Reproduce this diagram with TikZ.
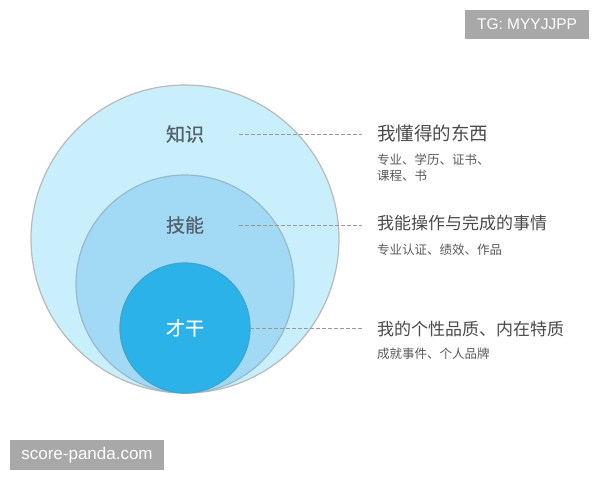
\documentclass[tikz,border=0pt]{standalone}
\usepackage{fontspec}
\newfontfamily\cjk{Noto Sans CJK SC}
\newfontfamily\cjkm[FakeBold=0.5]{Noto Sans CJK SC}
\newfontfamily\wm{Liberation Sans}
\definecolor{outerc}{HTML}{C8EFFB}
\definecolor{midc}{HTML}{A2DAF6}
\definecolor{innerc}{HTML}{2BB2E8}
\definecolor{lbl}{HTML}{56606A}
\definecolor{txt}{HTML}{4A4A4A}
\definecolor{subtxt}{HTML}{5A5A5A}
\definecolor{wmbox}{HTML}{A8A8A8}
\begin{document}
\begin{tikzpicture}[x=1pt,y=-1pt,
  ring/.style={circle,inner sep=0pt,draw=#1,line width=1.2pt},
  lab/.style={font=\cjkm\fontsize{19}{22}\selectfont,text=lbl,inner sep=0pt},
  head/.style={font=\cjk\fontsize{#1}{20}\selectfont,text=txt,inner sep=0pt,anchor=west},
  sub/.style={font=\cjk\fontsize{12.5}{16.5}\selectfont,text=subtxt,inner sep=0pt,anchor=west,align=left},
  conn/.style={draw=gray!80,line width=0.7pt,dash pattern=on 3.5pt off 2.5pt},
  wmark/.style={fill=wmbox,text=white,font=\wm\fontsize{#1}{18}\selectfont,inner sep=0pt}]
\useasboundingbox (0,0) rectangle (600,480);
\fill[white] (0,0) rectangle (600,480);
% circles
\node[ring=gray!55,fill=outerc,minimum size=308pt] (outer) at (185,239) {};
\node[ring=gray!35!midc,fill=midc,minimum size=218pt] (mid) at (185,284) {};
\node[ring=gray!25!innerc,fill=innerc,minimum size=130pt] (inner) at (185,328) {};
% circle labels
\node[lab] (k1) at (185,134) {知识};
\node[lab] (k2) at (185,225) {技能};
\node[lab,text=white] (k3) at (185,328) {才干};
% right texts
\node[head=18.5] (t1) at (377,133) {我懂得的东西};
\node[sub,anchor=north west] (s1) at (377,153.5) {专业、学历、证书、\\课程、书};
\node[head=17] (t2) at (377,223) {我能操作与完成的事情};
\node[sub] (s2) at (377,249.5) {专业认证、绩效、作品};
\node[head=17] (t3) at (377,329) {我的个性品质、内在特质};
\node[sub] (s3) at (377,354) {成就事件、个人品牌};
% connectors
\draw[conn] ([xshift=35pt]k1.east) -- ([xshift=-15pt]t1.west |- k1.east);
\draw[conn] ([xshift=35pt]k2.east) -- ([xshift=-15pt]t2.west |- k2.east);
\draw[conn] ([xshift=46pt]k3.east) -- ([xshift=-15pt]t3.west |- k3.east);
% watermarks
\node[wmark=15.5,minimum width=124pt,minimum height=29pt] (wm1) at (527,24.5) {TG: MYYJJPP};
\node[wmark=17,minimum width=154pt,minimum height=30pt] (wm2) at (87,455) {score-panda.com};
\end{tikzpicture}
\end{document}
